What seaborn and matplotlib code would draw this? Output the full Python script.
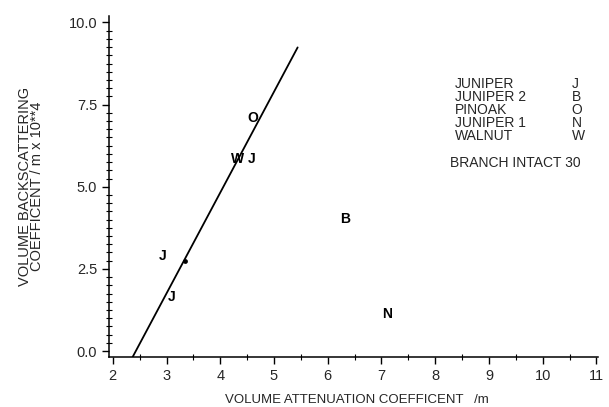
import matplotlib
matplotlib.use("Agg")
import matplotlib.pyplot as plt
import seaborn as sns
import pandas as pd
from matplotlib.ticker import MultipleLocator, FormatStrFormatter

# points, each plotted as the letter of its species
pt_x = [4.61, 4.33, 4.59, 6.32, 2.93, 3.10, 7.10]
pt_y = [7.10, 5.85, 5.85, 4.02, 2.90, 1.65, 1.13]
pt_letter = ["O", "W", "J", "B", "J", "J", "N"]

# small unlabeled mark sitting on the fit line
dot_x = [3.34]
dot_y = [2.74]

# regression line end points
line_x = [2.37, 5.44]
line_y = [-0.18, 9.24]

species = ["JUNIPER", "JUNIPER 2", "PINOAK", "JUNIPER 1", "WALNUT"]
codes = ["J", "B", "O", "N", "W"]

sns.set_theme(style="ticks")
plt.rcParams["font.family"] = ["Liberation Sans", "DejaVu Sans"]

df = pd.DataFrame({"x": pt_x, "y": pt_y, "letter": pt_letter})

fig = plt.figure(figsize=(6.09, 4.07), dpi=100)
ax = fig.add_axes([0.179, 0.123, 0.803, 0.838])

sns.lineplot(x=line_x, y=line_y, color="black", lw=1.3, ax=ax)
sns.scatterplot(x=dot_x, y=dot_y, color="black", s=12, linewidth=0,
                legend=False, ax=ax)
# letters as the plotting symbols, placed in data coordinates
for _, r in df.iterrows():
    ax.text(r["x"], r["y"], r["letter"], ha="center", va="center",
            fontsize=10, fontweight="bold", color="black")

ax.set_xlim(1.93, 11.03)
ax.set_ylim(-0.18, 10.2)
ax.xaxis.set_major_locator(MultipleLocator(1))
ax.xaxis.set_minor_locator(MultipleLocator(0.5))
ax.yaxis.set_major_locator(MultipleLocator(2.5))
ax.yaxis.set_minor_locator(MultipleLocator(0.25))
ax.yaxis.set_major_formatter(FormatStrFormatter("%.1f"))
ax.tick_params(which="major", direction="out", length=5, width=1, labelsize=10.5, color="black")
ax.tick_params(which="minor", direction="inout", length=4, width=0.8, color="black")
for s in ["left", "bottom"]:
    ax.spines[s].set_color("black")
    ax.spines[s].set_linewidth(1.1)
sns.despine(ax=ax)

ax.set_xlabel("VOLUME ATTENUATION COEFFICENT   /m", fontsize=9.5, x=0.507, labelpad=8)
ax.set_ylabel("VOLUME BACKSCATTERING\nCOEFFICENT / m x 10**4", fontsize=10.5,
              linespacing=0.78, labelpad=18)

# key in upper right
for i, (name, code) in enumerate(zip(species, codes)):
    yy = 0.80 - i * 0.038
    ax.text(0.708, yy, name, transform=ax.transAxes, fontsize=10, va="center")
    ax.text(0.946, yy, code, transform=ax.transAxes, fontsize=10, va="center")
ax.text(0.698, 0.568, "BRANCH INTACT 30", transform=ax.transAxes, fontsize=10, va="center")

fig.savefig("out.png", dpi=100)
